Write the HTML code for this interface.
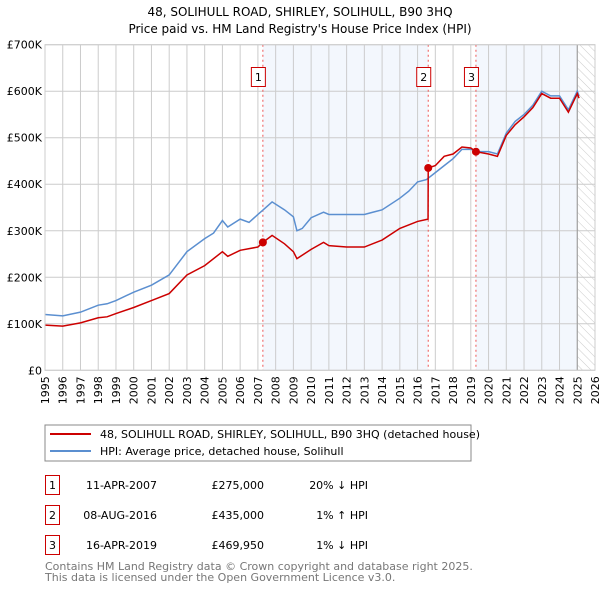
<!DOCTYPE html>
<html><head><meta charset="utf-8"><style>
body{margin:0;background:#fff;}
svg text{font-family:"DejaVu Sans","Liberation Sans",sans-serif;}
</style></head><body>
<svg id="c" width="600" height="590" xmlns="http://www.w3.org/2000/svg">
<defs><pattern id="hatch" width="6" height="6" patternUnits="userSpaceOnUse" patternTransform="rotate(-45)"><line x1="0" y1="0" x2="0" y2="6" stroke="#ccc" stroke-width="1"/></pattern></defs>
<text x="300" y="16" text-anchor="middle" font-size="12">48, SOLIHULL ROAD, SHIRLEY, SOLIHULL, B90 3HQ</text>
<text x="300" y="33" text-anchor="middle" font-size="12">Price paid vs. HM Land Registry's House Price Index (HPI)</text>
<g id="plot"></g>
<rect x="45" y="425" width="426" height="36" fill="#fff" stroke="#888"/>
<line x1="50" y1="434" x2="91" y2="434" stroke="#cc0000" stroke-width="2"/>
<text x="100" y="438" font-size="11">48, SOLIHULL ROAD, SHIRLEY, SOLIHULL, B90 3HQ (detached house)</text>
<line x1="50" y1="451" x2="91" y2="451" stroke="#5b8fd0" stroke-width="2"/>
<text x="100" y="455" font-size="11">HPI: Average price, detached house, Solihull</text>
<g font-size="11">
<rect x="45.5" y="475.5" width="14" height="19" fill="#fff" stroke="#cc0000"/><text x="52.5" y="489" text-anchor="middle">1</text>
<text x="157" y="489" text-anchor="end">11-APR-2007</text>
<text x="264" y="489" text-anchor="end">£275,000</text>
<text x="368" y="489" text-anchor="end">20% ↓ HPI</text>
<rect x="45.5" y="505.5" width="14" height="19" fill="#fff" stroke="#cc0000"/><text x="52.5" y="519" text-anchor="middle">2</text>
<text x="157" y="519" text-anchor="end">08-AUG-2016</text>
<text x="264" y="519" text-anchor="end">£435,000</text>
<text x="368" y="519" text-anchor="end">1% ↑ HPI</text>
<rect x="45.5" y="535.5" width="14" height="19" fill="#fff" stroke="#cc0000"/><text x="52.5" y="549" text-anchor="middle">3</text>
<text x="157" y="549" text-anchor="end">16-APR-2019</text>
<text x="264" y="549" text-anchor="end">£469,950</text>
<text x="368" y="549" text-anchor="end">1% ↓ HPI</text>
</g>
<text x="45" y="570" font-size="11" fill="#777">Contains HM Land Registry data © Crown copyright and database right 2025.</text>
<text x="45" y="581" font-size="11" fill="#777">This data is licensed under the Open Government Licence v3.0.</text>
</svg>
<script>
const hpiYears=[1995,1996,1997,1998,1998.5,1999,2000,2001,2002,2003,2004,2004.5,2005,2005.3,2006,2006.5,2007,2007.3,2007.8,2008.5,2009,2009.2,2009.5,2010,2010.7,2011,2011.5,2012,2013,2013.5,2014,2015,2015.5,2016,2016.5,2017,2017.5,2018,2018.5,2019,2019.5,2020,2020.5,2021,2021.5,2022,2022.5,2023,2023.5,2024,2024.5,2025,2025.1];
const hpiValues=[120,117,125,140,143,150,168,183,205,255,283,295,322,308,325,318,335,345,362,345,330,300,305,328,340,335,335,335,335,340,345,370,385,405,410,425,440,455,475,475,470,470,465,510,535,550,570,600,590,590,560,600,590];
const propYears=[1995,1996,1997,1998,1998.5,1999,2000,2001,2002,2003,2004,2005,2005.3,2006,2007,2007.28,2007.8,2008.5,2009,2009.2,2010,2010.7,2011,2012,2013,2014,2015,2016,2016.59,2016.6,2017,2017.5,2018,2018.5,2019,2019.29,2020,2020.5,2021,2021.5,2022,2022.5,2023,2023.5,2024,2024.5,2025,2025.1];
const propValues=[97,95,102,113,115,122,135,150,165,205,225,255,245,258,265,275,290,272,255,240,260,275,268,265,265,280,305,320,325,435,440,460,465,480,478,470,465,460,505,528,545,565,595,585,585,555,595,585];
const saleYears=[2007.28,2016.6,2019.29];
const saleValues=[275,435,469.95];
const saleLabels=["1","2","3"];
const yTicks=[0,100,200,300,400,500,600,700];
const yTickLabels=["£0","£100K","£200K","£300K","£400K","£500K","£600K","£700K"];
const xTicks=[1995,1996,1997,1998,1999,2000,2001,2002,2003,2004,2005,2006,2007,2008,2009,2010,2011,2012,2013,2014,2015,2016,2017,2018,2019,2020,2021,2022,2023,2024,2025,2026];
const X0=45,X1=595,Y0=370.3,Y1=44.7;
const xs=y=>X0+(y-1995)/(2026-1995)*(X1-X0);
const ys=v=>Y0-v/700*(Y0-Y1);
const NS="http://www.w3.org/2000/svg";
const g=document.getElementById('plot');
function mk(t,a){const e=document.createElementNS(NS,t);for(const k in a)e.setAttribute(k,a[k]);g.appendChild(e);return e;}
let e;
e=mk('rect',{x:xs(saleYears[0]),y:Y1,width:xs(saleYears[1])-xs(saleYears[0]),height:Y0-Y1,fill:'#eef3fc',opacity:0.7});


e=mk('rect',{x:xs(saleYears[2]),y:Y1,width:xs(2025)-xs(saleYears[2]),height:Y0-Y1,fill:'#eef3fc',opacity:0.7});


e=mk('rect',{x:xs(2025),y:Y1,width:X1-xs(2025),height:Y0-Y1,fill:'url(#hatch)'});


xTicks.forEach((t,i)=>{
 e=mk('line',{x1:xs(t),x2:xs(t),y1:Y1,y2:Y0,stroke:'#ccc','stroke-width':1});
 
 
 const tx=xs(t)+4, ty=Y0+6;
 e=mk('text',{x:tx,y:ty,'text-anchor':'end','font-size':11,transform:'rotate(-90 '+tx+' '+ty+')'});
 e.textContent=t;
 
 
});
yTicks.forEach((t,i)=>{
 e=mk('line',{x1:X0,x2:X1,y1:ys(t),y2:ys(t),stroke:'#ccc','stroke-width':1});
 
 
 e=mk('text',{x:X0-3,y:ys(t)+4,'text-anchor':'end','font-size':11});
 e.textContent=yTickLabels[i];
 
 
});
e=mk('line',{x1:xs(2025),x2:xs(2025),y1:Y1,y2:Y0,stroke:'#999','stroke-width':1});


saleYears.forEach((s,i)=>{
 e=mk('line',{x1:xs(s),x2:xs(s),y1:Y1,y2:Y0,stroke:'#ee5555','stroke-width':1,'stroke-dasharray':'2,3'});
 
 
 e=mk('rect',{x:xs(s)-11.5,y:67.5,width:14,height:19,fill:'#fff',stroke:'#cc0000'});
 
 
 e=mk('text',{x:xs(s)-4.5,y:81,'text-anchor':'middle','font-size':11});
 e.textContent=saleLabels[i];
 
 
});
e=mk('polyline',{points:hpiYears.map((y,i)=>xs(y)+','+ys(hpiValues[i])).join(' '),fill:'none',stroke:'#5b8fd0','stroke-width':1.5});


e=mk('polyline',{points:propYears.map((y,i)=>xs(y)+','+ys(propValues[i])).join(' '),fill:'none',stroke:'#cc0000','stroke-width':1.5});


saleYears.forEach((s,i)=>{
 e=mk('circle',{cx:xs(s),cy:ys(saleValues[i]),r:4,fill:'#cc0000'});
 
 
});
e=mk('rect',{x:X0,y:Y1,width:X1-X0,height:Y0-Y1,fill:'none',stroke:'#ccc'});


</script>
</body></html>
